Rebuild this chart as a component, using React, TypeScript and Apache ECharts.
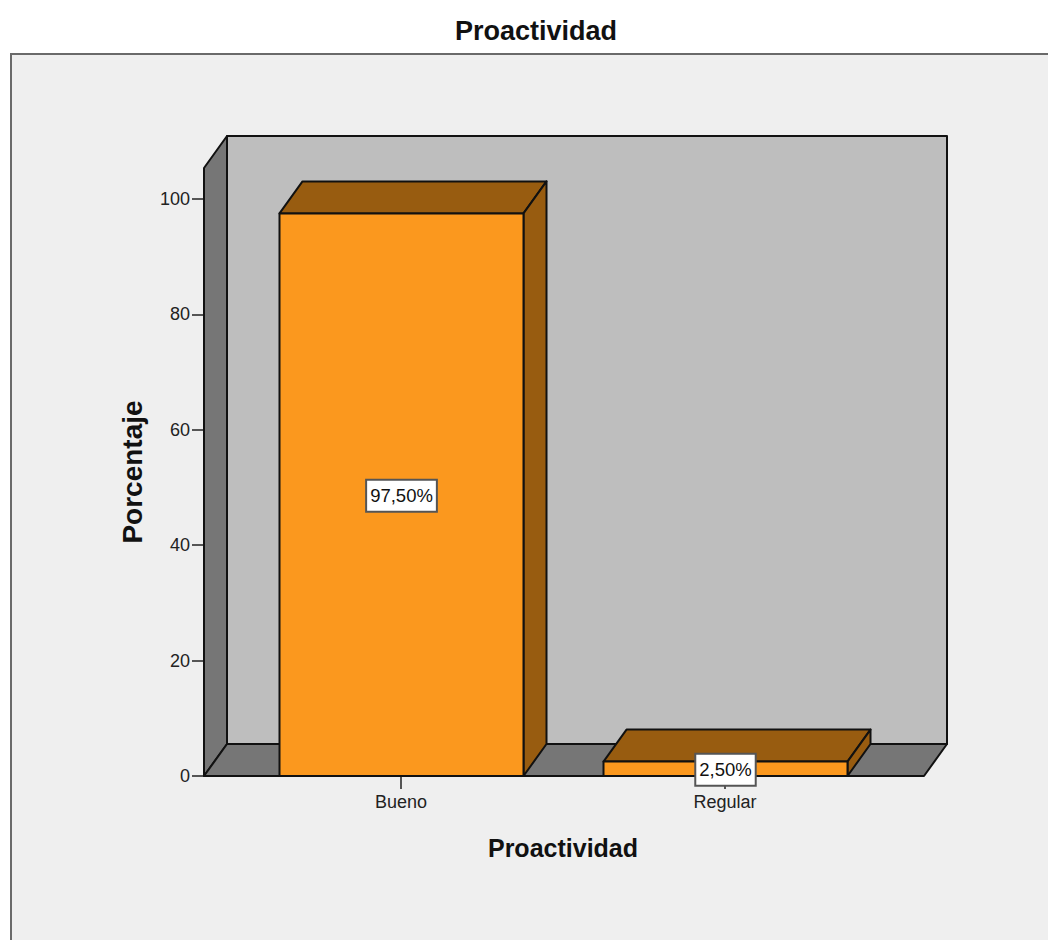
import React, { useEffect, useRef } from "react";
import * as echarts from "echarts";

const categories = ["Bueno", "Regular"];
const percentages = [97.5, 2.5];
const valueTicks = [0, 20, 40, 60, 80, 100];
const axisMax = 105.37;
const titleText = "Proactividad";
const xAxisTitle = "Proactividad";
const yAxisTitle = "Porcentaje";
const labelTexts = ["97,50%", "2,50%"];

const DEPTH_X = 23;
const DEPTH_Y = -32;
const BAR_WIDTH = 244;
const FLOOR_LEFT = 35;
const FLOOR_RIGHT = 37;
const FONT = '"Liberation Sans", Arial, sans-serif';
const EDGE = "#111111";

const poly = (points: number[][], fill: string, z2 = 0) => ({
  type: "polygon",
  z2,
  shape: { points },
  style: { fill, stroke: EDGE, lineWidth: 2, lineJoin: "round" },
});

const renderWalls = (params: any) => {
  const c = params.coordSys;
  const l = c.x - FLOOR_LEFT;
  const r = c.x + c.width + FLOOR_RIGHT;
  const t = c.y;
  const b = c.y + c.height;
  return {
    type: "group",
    children: [
      poly(
        [[l + DEPTH_X, t + DEPTH_Y], [r + DEPTH_X, t + DEPTH_Y], [r + DEPTH_X, b + DEPTH_Y], [l + DEPTH_X, b + DEPTH_Y]],
        "#bebebe"
      ),
      poly(
        [[l, t], [l + DEPTH_X, t + DEPTH_Y], [l + DEPTH_X, b + DEPTH_Y], [l, b]],
        "#767676"
      ),
      poly(
        [[l, b], [l + DEPTH_X, b + DEPTH_Y], [r + DEPTH_X, b + DEPTH_Y], [r, b]],
        "#767676"
      ),
    ],
  };
};

const renderBar = (params: any, api: any) => {
  const idx = api.value(0);
  const val = api.value(1);
  const top = api.coord([idx, val]);
  const base = api.coord([idx, 0]);
  const mid = api.coord([idx, val / 2]);
  const x0 = top[0] - BAR_WIDTH / 2 + 0.5;
  const x1 = top[0] + BAR_WIDTH / 2 + 0.5;
  return {
    type: "group",
    children: [
      poly(
        [[x0, top[1]], [x0 + DEPTH_X, top[1] + DEPTH_Y], [x1 + DEPTH_X, top[1] + DEPTH_Y], [x1, top[1]]],
        "#985c10"
      ),
      poly(
        [[x1, top[1]], [x1 + DEPTH_X, top[1] + DEPTH_Y], [x1 + DEPTH_X, base[1] + DEPTH_Y], [x1, base[1]]],
        "#985c10"
      ),
      poly(
        [[x0, top[1]], [x1, top[1]], [x1, base[1]], [x0, base[1]]],
        "#fb981e"
      ),
      {
        type: "text",
        z2: 10,
        x: top[0] + 0.5,
        y: mid[1] + 1,
        style: {
          text: labelTexts[params.dataIndex],
          fill: "#111111",
          font: `18.5px ${FONT}`,
          align: "center",
          verticalAlign: "middle",
          backgroundColor: "#ffffff",
          borderColor: "#555555",
          borderWidth: 2,
          padding: [6, 3, 5, 3],
        },
      },
    ],
  };
};

export default function App() {
  const ref = useRef<HTMLDivElement>(null);
  useEffect(() => {
    const chart = echarts.init(ref.current!, null, { renderer: "svg" });
    chart.setOption({
      animation: false,
      backgroundColor: "#ffffff",
      title: {
        text: titleText,
        left: 531,
        top: 12,
        textAlign: "center",
        textStyle: { fontFamily: FONT, fontSize: 27, fontWeight: "bold", color: "#111111" },
      },
      graphic: [
        {
          type: "rect",
          z: -1,
          shape: { x: 11, y: 54, width: 1060, height: 920 },
          style: { fill: "#efefef", stroke: "#6a6a6a", lineWidth: 2 },
        },
      ],
      grid: { left: 239, top: 168, width: 648, height: 608 },
      xAxis: {
        type: "category",
        data: categories,
        name: xAxisTitle,
        nameLocation: "middle",
        nameGap: 59,
        nameTextStyle: { fontFamily: FONT, fontSize: 25, fontWeight: "bold", color: "#111111" },
        axisLine: { show: false },
        axisTick: { show: true, alignWithLabel: true, length: 13, lineStyle: { color: "#222222", width: 1.5 } },
        axisLabel: { fontFamily: FONT, fontSize: 18, color: "#222222", margin: 17 },
        splitLine: { show: false },
      },
      yAxis: {
        type: "value",
        min: 0,
        max: axisMax,
        offset: FLOOR_LEFT,
        name: yAxisTitle,
        nameLocation: "middle",
        nameGap: 58,
        nameTextStyle: { fontFamily: FONT, fontSize: 28, fontWeight: "bold", color: "#111111" },
        axisLine: { show: false },
        axisTick: { show: true, length: 12, customValues: valueTicks, lineStyle: { color: "#222222", width: 1.5 } },
        axisLabel: { fontFamily: FONT, fontSize: 18, color: "#222222", margin: 14, customValues: valueTicks },
        splitLine: { show: false },
      },
      series: [
        {
          type: "custom",
          coordinateSystem: "cartesian2d",
          z: 2,
          silent: true,
          renderItem: renderWalls,
          data: [[0, 0]],
          encode: { x: 0, y: 1 },
        },
        {
          type: "custom",
          coordinateSystem: "cartesian2d",
          z: 3,
          silent: true,
          renderItem: renderBar,
          data: percentages.map((v, i) => [i, v]),
          encode: { x: 0, y: 1 },
        },
      ],
    });
    return () => chart.dispose();
  }, []);
  return (
    <div
      ref={ref}
      style={{ position: "fixed", left: 0, top: 0, width: 1048, height: 940 }}
    />
  );
}
